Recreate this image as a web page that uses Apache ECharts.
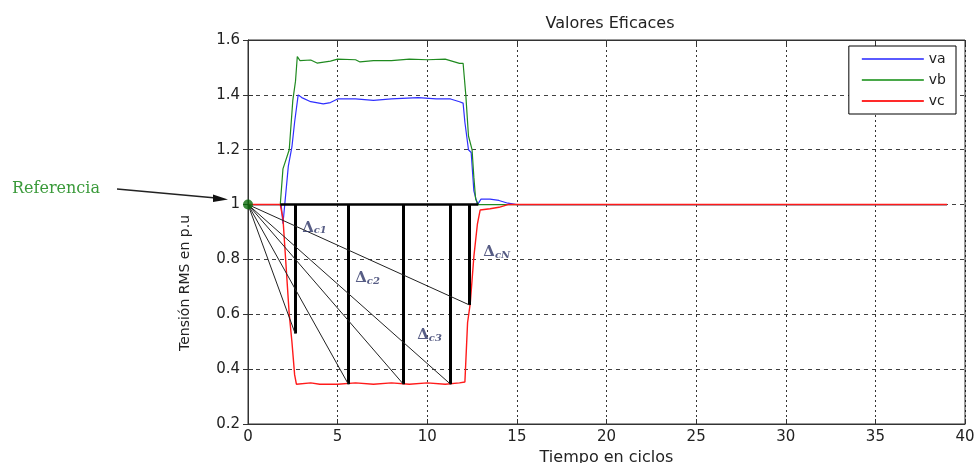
<!DOCTYPE html>
<html>
<head>
<meta charset="utf-8">
<script src="https://cdn.jsdelivr.net/npm/echarts@6/dist/echarts.min.js"></script>
<style>
  html, body { margin: 0; padding: 0; background: #fff; }
  #chart { width: 979px; height: 463px; }
</style>
</head>
<body>
<div id="chart"></div>
<script>
// tiempo (ciclos) y tension (p.u)
const tA = [0, 1.85, 1.95, 2.05, 2.25, 2.45, 2.6, 2.8, 3.0, 3.5, 4.2, 4.6, 5.0, 6, 7, 8, 9.5, 10.5, 11.3, 11.8, 12.0, 12.1, 12.3, 12.45, 12.6, 12.8, 12.9, 13.0, 13.5, 14.0, 14.5, 15, 39];
const vA = [1, 1, 0.93, 1.0, 1.14, 1.21, 1.3, 1.4, 1.39, 1.375, 1.367, 1.372, 1.385, 1.385, 1.38, 1.385, 1.39, 1.385, 1.385, 1.375, 1.37, 1.3, 1.2, 1.19, 1.05, 1.0, 1.0, 1.02, 1.02, 1.015, 1.005, 1.0, 1.0];

const tB = [0, 1.8, 1.95, 2.3, 2.5, 2.65, 2.75, 2.9, 3.5, 3.85, 4.6, 5.0, 6.0, 6.25, 7, 8, 9, 10, 11, 11.8, 12.0, 12.15, 12.3, 12.5, 12.6, 12.7, 12.85, 39];
const vB = [1, 1, 1.13, 1.2, 1.38, 1.45, 1.54, 1.525, 1.527, 1.516, 1.523, 1.53, 1.528, 1.52, 1.525, 1.525, 1.53, 1.528, 1.53, 1.515, 1.515, 1.4, 1.25, 1.2, 1.1, 1.02, 1.0, 1.0];

const tC = [0, 1.8, 1.95, 2.1, 2.3, 2.45, 2.6, 2.7, 3.5, 4, 5, 6, 7, 8, 9, 10, 11, 11.8, 12.1, 12.25, 12.4, 12.6, 12.8, 12.95, 13.5, 14, 14.5, 39];
const vC = [1, 1, 0.95, 0.8, 0.6, 0.5, 0.38, 0.345, 0.35, 0.345, 0.345, 0.35, 0.345, 0.35, 0.345, 0.35, 0.345, 0.35, 0.353, 0.57, 0.64, 0.81, 0.93, 0.98, 0.985, 0.99, 1.0, 1.0];

// cortes (lineas verticales) y etiquetas delta
const cutT = [2.63, 5.6, 8.67, 11.3, 12.35];
const cutV = [0.53, 0.345, 0.345, 0.345, 0.634];
const refEnd = [1.8, 12.85];
const deltaNames = ['1', '2', '3', 'N'];
const deltaT = [3.02, 5.98, 9.44, 13.13];
const deltaV = [0.915, 0.732, 0.524, 0.827];

const pairs = (ts, vs) => ts.map((t, i) => [t, vs[i]]);

const chart = echarts.init(document.getElementById('chart'));

const txt = '#222';
const font = 'DejaVu Sans, sans-serif';

const verticals = cutT.map((t, i) => [{ coord: [t, 1] }, { coord: [t, cutV[i]] }]);
const diagonals = cutT.map((t, i) => [{ coord: [0, 1] }, { coord: [t, cutV[i]] }]);

const option = {
  animation: false,
  backgroundColor: '#fff',
  title: {
    text: 'Valores Eficaces',
    left: 605,
    top: 11,
    textAlign: 'center',
    textStyle: { fontSize: 16, fontWeight: 'normal', color: txt, fontFamily: font }
  },
  legend: {
    data: ['va', 'vb', 'vc'],
    orient: 'vertical',
    right: 23,
    top: 46,
    icon: 'rect',
    itemWidth: 62,
    itemHeight: 2,
    itemGap: 7,
    itemTextGap: 10,
    padding: [6, 10, 6, 13],
    backgroundColor: '#fff',
    borderColor: '#000',
    borderWidth: 1,
    borderRadius: 0,
    textStyle: { fontSize: 14, color: txt, fontFamily: font, lineHeight: 14 }
  },
  grid: { left: 248, right: 14, top: 40, bottom: 39, show: true, borderColor: '#333', borderWidth: 1, outerBoundsMode: 'none' },
  xAxis: [{
    type: 'value', min: 0, max: 40, interval: 5,
    name: 'Tiempo en ciclos', nameLocation: 'middle', nameGap: 24,
    nameTextStyle: { fontSize: 16, color: txt, fontFamily: font },
    axisLine: { show: true, lineStyle: { color: '#333' } },
    axisTick: { show: true, inside: true, length: 5, lineStyle: { color: '#333' } },
    axisLabel: { fontSize: 15, color: txt, fontFamily: font, margin: 6 },
    splitLine: { show: true, lineStyle: { color: '#000', type: [2, 3], width: 1, opacity: 0.8 } }
  }, {
    type: 'value', min: 0, max: 40, interval: 5, position: 'top',
    axisLine: { show: true, lineStyle: { color: '#333' } },
    axisTick: { show: true, inside: true, length: 5, lineStyle: { color: '#333' } },
    axisLabel: { show: false }, splitLine: { show: false }
  }],
  yAxis: [{
    type: 'value', min: 0.2, max: 1.6, interval: 0.2,
    axisLine: { show: true, lineStyle: { color: '#777' } },
    axisTick: { show: true, inside: true, length: 5, lineStyle: { color: '#333' } },
    axisLabel: { fontSize: 15, color: txt, fontFamily: font, margin: 8, formatter: v => String(+v.toFixed(1)) },
    splitLine: { show: true, lineStyle: { color: '#000', type: [4, 4], width: 1, opacity: 0.75 } }
  }, {
    type: 'value', min: 0.2, max: 1.6, interval: 0.2, position: 'right',
    axisLine: { show: true, lineStyle: { color: '#333' } },
    axisTick: { show: true, inside: true, length: 5, lineStyle: { color: '#333' } },
    axisLabel: { show: false }, splitLine: { show: false }
  }],
  graphic: [
    {
      type: 'text', x: 185, y: 283, rotation: Math.PI / 2,
      style: { text: 'Tensión RMS en p.u', fontSize: 14, fill: txt, fontFamily: font, align: 'center', verticalAlign: 'middle' }
    },
    {
      type: 'text', x: 12, y: 189,
      style: { text: 'Referencia', fontSize: 16, fill: '#3a9a3a', fontFamily: 'DejaVu Serif, serif', verticalAlign: 'middle' }
    },
    {
      type: 'line', shape: { x1: 117, y1: 189, x2: 216, y2: 198 },
      style: { stroke: '#222', lineWidth: 1.3 }
    },
    {
      type: 'polygon', shape: { points: [[228, 199.5], [213, 194.5], [213, 202]] },
      style: { fill: '#111' }
    }
  ],
  series: [
    {
      name: 'va', type: 'line', data: pairs(tA, vA), symbol: 'none',
      lineStyle: { color: '#2f2fff', width: 1.2 }, itemStyle: { color: '#5a5aff' }, z: 3
    },
    {
      name: 'vb', type: 'line', data: pairs(tB, vB), symbol: 'none',
      lineStyle: { color: '#1f8a1f', width: 1.2 }, itemStyle: { color: '#4aa84a' }, z: 3
    },
    {
      name: 'vc', type: 'line', data: pairs(tC, vC), symbol: 'none',
      lineStyle: { color: '#ff1a1a', width: 1.4 }, itemStyle: { color: '#ff2a2a' }, z: 4
    },
    {
      name: 'ref', type: 'line', data: refEnd.map(t => [t, 1]), symbol: 'none',
      lineStyle: { color: '#000', width: 2.5 }, z: 5,
      markLine: {
        silent: true, symbol: 'none', animation: false, label: { show: false },
        lineStyle: { color: '#000', width: 3, type: 'solid' },
        data: verticals
      }
    },
    {
      name: 'diag', type: 'line', data: [], symbol: 'none', z: 5,
      markLine: {
        silent: true, symbol: 'none', animation: false, label: { show: false },
        lineStyle: { color: '#222', width: 1, type: 'solid' },
        data: diagonals
      }
    },
    {
      name: 'deltas', type: 'scatter', symbolSize: 0, z: 6,
      data: deltaT.map((t, i) => [t, deltaV[i], deltaNames[i]]),
      label: {
        show: true, position: 'right', distance: 0,
        formatter: p => '{d|Δ}{s|c' + p.value[2] + '}',
        rich: {
          d: { fontSize: 15, fontWeight: 'bold', color: '#2d3566', fontFamily: 'DejaVu Serif, serif' },
          s: { fontSize: 10, color: '#2d3566', fontStyle: 'italic', fontWeight: 'bold', fontFamily: 'DejaVu Serif, serif', padding: [6, 0, 0, 0] }
        }
      }
    },
    {
      name: 'origen', type: 'scatter', data: [[0, 1]], symbolSize: 10, z: 7,
      itemStyle: { color: '#0b6e0b' }
    }
  ]
};

chart.setOption(option);
</script>
</body>
</html>
